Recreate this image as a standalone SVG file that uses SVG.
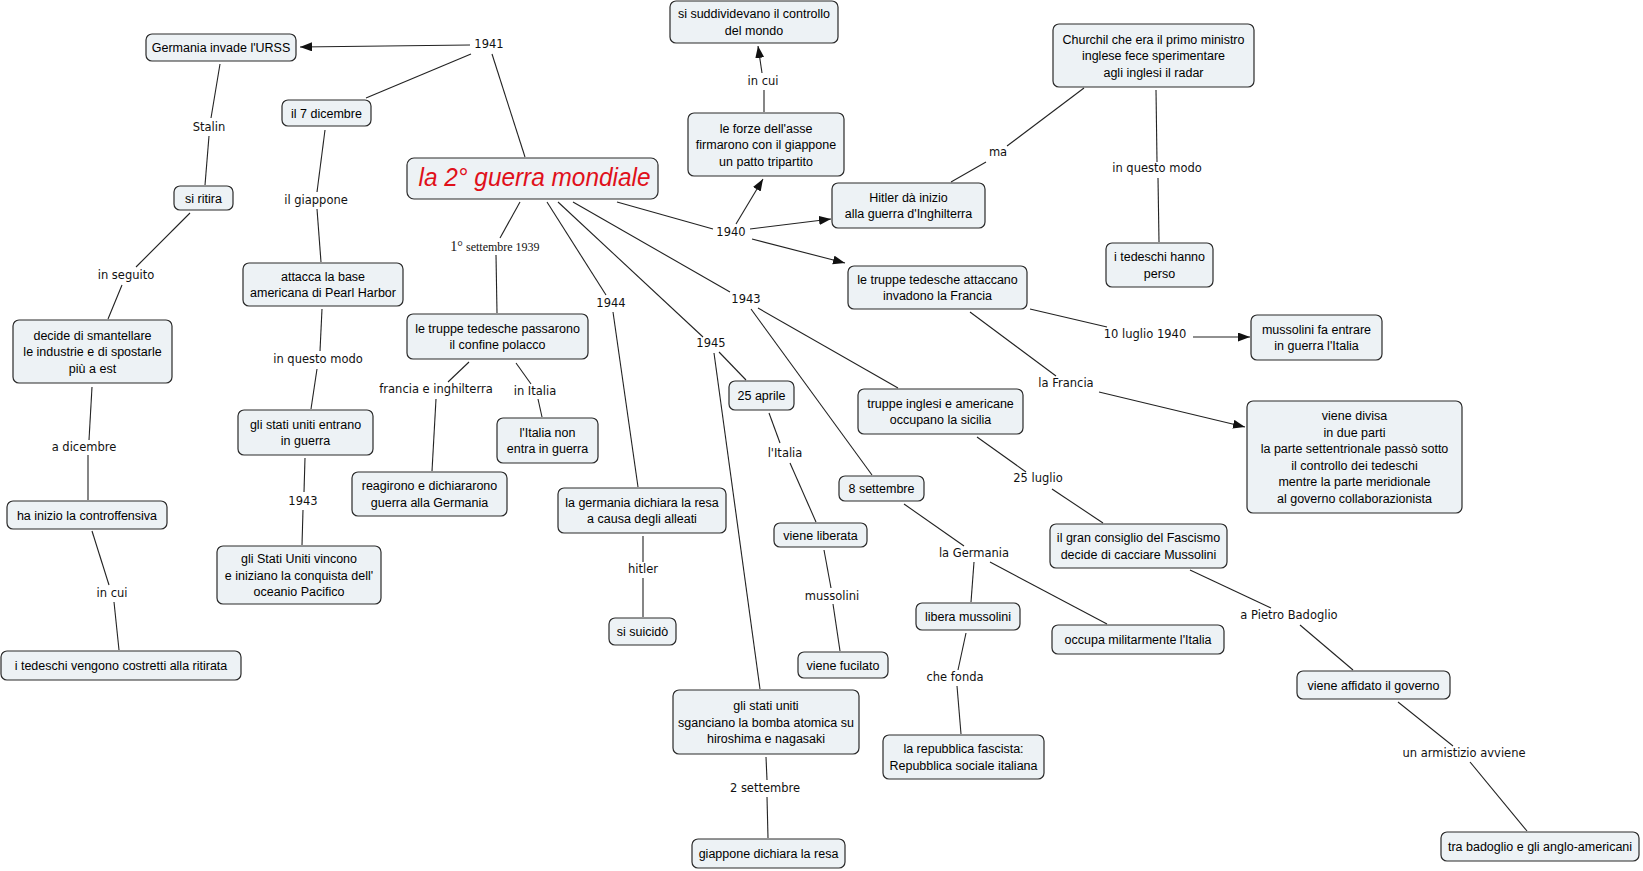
<svg xmlns="http://www.w3.org/2000/svg" width="1643" height="871" viewBox="0 0 1643 871">
<style>
.node rect{fill:#edf2f5;stroke:#2a2a2a;stroke-width:1.2}
.nt{font-family:"Liberation Sans",Arial,sans-serif;font-size:12.5px;text-anchor:middle;fill:#000}
.lt{font-family:"DejaVu Sans",Verdana,sans-serif;font-size:11.5px;text-anchor:middle;fill:#111}
.ls{font-family:"Liberation Serif","Times New Roman",serif;font-size:12px;text-anchor:middle;fill:#111}
#connectors line{stroke:#222;stroke-width:1.1;fill:none}
#connectors line.arr{marker-end:url(#ah)}
.title{font-family:"Liberation Sans",Arial,sans-serif;font-size:25px;font-style:italic;fill:#e0101a;text-anchor:middle}
</style>
<defs>
<marker id="ah" markerUnits="userSpaceOnUse" markerWidth="13" markerHeight="10" refX="12" refY="4.5" orient="auto">
<path d="M0,0 L12,4.5 L0,9 z" fill="#111"/>
</marker>
</defs>
<rect x="0" y="0" width="1643" height="871" fill="#ffffff"/>
<g id="connectors">
<line x1="525" y1="157" x2="492" y2="54"/>
<line class="arr" x1="470" y1="45" x2="300" y2="47"/>
<line x1="471" y1="54" x2="366" y2="98"/>
<line x1="325" y1="130" x2="317" y2="192"/>
<line x1="317" y1="209" x2="321" y2="262"/>
<line x1="322" y1="309" x2="320" y2="351"/>
<line x1="317" y1="369" x2="311" y2="409"/>
<line x1="305" y1="458" x2="304" y2="492"/>
<line x1="303" y1="510" x2="302" y2="545"/>
<line x1="220" y1="64" x2="211" y2="118"/>
<line x1="209" y1="136" x2="205" y2="185"/>
<line x1="190" y1="213" x2="136" y2="267"/>
<line x1="122" y1="285" x2="108" y2="319"/>
<line x1="92" y1="387" x2="89" y2="440"/>
<line x1="88" y1="455" x2="88" y2="500"/>
<line x1="92" y1="531" x2="109" y2="585"/>
<line x1="114" y1="602" x2="119" y2="650"/>
<line x1="520" y1="202" x2="500" y2="238"/>
<line x1="496" y1="255" x2="497" y2="313"/>
<line x1="469" y1="362" x2="448" y2="382"/>
<line x1="436" y1="399" x2="432" y2="471"/>
<line x1="516" y1="363" x2="531" y2="384"/>
<line x1="538" y1="399" x2="542" y2="417"/>
<line x1="547" y1="202" x2="606" y2="295"/>
<line x1="613" y1="312" x2="638" y2="487"/>
<line x1="643" y1="536" x2="643" y2="562"/>
<line x1="643" y1="578" x2="643" y2="617"/>
<line x1="558" y1="202" x2="703" y2="337"/>
<line x1="719" y1="352" x2="746" y2="380"/>
<line x1="714" y1="353" x2="760" y2="689"/>
<line x1="573" y1="202" x2="730" y2="292"/>
<line x1="758" y1="308" x2="898" y2="388"/>
<line x1="751" y1="309" x2="872" y2="475"/>
<line x1="769" y1="413" x2="780" y2="443"/>
<line x1="790" y1="463" x2="816" y2="522"/>
<line x1="824" y1="550" x2="831" y2="588"/>
<line x1="833" y1="604" x2="840" y2="651"/>
<line x1="904" y1="504" x2="964" y2="546"/>
<line x1="974" y1="562" x2="971" y2="602"/>
<line x1="990" y1="562" x2="1107" y2="624"/>
<line x1="966" y1="633" x2="958" y2="670"/>
<line x1="957" y1="686" x2="961" y2="734"/>
<line x1="977" y1="437" x2="1026" y2="472"/>
<line x1="1052" y1="489" x2="1103" y2="523"/>
<line x1="1190" y1="570" x2="1271" y2="608"/>
<line x1="1300" y1="625" x2="1353" y2="670"/>
<line x1="1398" y1="702" x2="1453" y2="746"/>
<line x1="1470" y1="762" x2="1527" y2="831"/>
<line x1="766" y1="757" x2="767" y2="780"/>
<line x1="767" y1="797" x2="768" y2="838"/>
<line x1="617" y1="202" x2="713" y2="229"/>
<line class="arr" x1="736" y1="224" x2="763" y2="179"/>
<line class="arr" x1="750" y1="229" x2="831" y2="219"/>
<line class="arr" x1="752" y1="239" x2="845" y2="263"/>
<line x1="764" y1="112" x2="764" y2="90"/>
<line class="arr" x1="762" y1="73" x2="758" y2="46"/>
<line x1="951" y1="182" x2="986" y2="162"/>
<line x1="1007" y1="146" x2="1084" y2="88"/>
<line x1="1156" y1="90" x2="1157" y2="162"/>
<line x1="1158" y1="178" x2="1159" y2="242"/>
<line x1="1030" y1="309" x2="1107" y2="327"/>
<line class="arr" x1="1193" y1="337" x2="1250" y2="337"/>
<line x1="970" y1="312" x2="1056" y2="376"/>
<line class="arr" x1="1099" y1="392" x2="1245" y2="427"/>
</g>
<g id="labels">
<text class="lt" x="489" y="48">1941</text>
<text class="lt" x="209" y="131">Stalin</text>
<text class="lt" x="316" y="204">il giappone</text>
<text class="lt" x="126" y="279">in seguito</text>
<text class="lt" x="318" y="363">in questo modo</text>
<text class="lt" x="84" y="451">a dicembre</text>
<text class="lt" x="112" y="597">in cui</text>
<text class="lt" x="303" y="505">1943</text>
<text class="ls" x="495" y="251"><tspan font-size="14">1°</tspan> settembre 1939</text>
<text class="lt" x="436" y="393">francia e inghilterra</text>
<text class="lt" x="535" y="395">in Italia</text>
<text class="lt" x="611" y="307">1944</text>
<text class="lt" x="643" y="573">hitler</text>
<text class="lt" x="711" y="347">1945</text>
<text class="lt" x="746" y="303">1943</text>
<text class="lt" x="785" y="457">l'Italia</text>
<text class="lt" x="832" y="600">mussolini</text>
<text class="lt" x="765" y="792">2 settembre</text>
<text class="lt" x="974" y="557">la Germania</text>
<text class="lt" x="955" y="681">che fonda</text>
<text class="lt" x="1038" y="482">25 luglio</text>
<text class="lt" x="1289" y="619">a Pietro Badoglio</text>
<text class="lt" x="1464" y="757">un armistizio avviene</text>
<text class="lt" x="1066" y="387">la Francia</text>
<text class="lt" x="1145" y="338">10 luglio 1940</text>
<text class="lt" x="731" y="236">1940</text>
<text class="lt" x="763" y="85">in cui</text>
<text class="lt" x="998" y="156">ma</text>
<text class="lt" x="1157" y="172">in questo modo</text>
</g>
<g id="n_main" class="node"><rect x="407" y="158" width="251" height="41" rx="7"/><text class="title" x="534.5" y="186" textLength="232" lengthAdjust="spacingAndGlyphs">la 2° guerra mondiale</text></g>
<g id="n_urss" class="node"><rect x="146" y="34" width="150" height="27" rx="6"/><text class="nt" x="221" y="52">Germania invade l'URSS</text></g>
<g id="n_7dic" class="node"><rect x="282" y="100" width="89" height="26" rx="6"/><text class="nt" x="326.5" y="117.5">il 7 dicembre</text></g>
<g id="n_ritira" class="node"><rect x="174" y="186" width="59" height="24" rx="6"/><text class="nt" x="203.5" y="202.5">si ritira</text></g>
<g id="n_pearl" class="node"><rect x="243" y="263" width="160" height="43" rx="6"/><text class="nt" x="323" y="280.7">attacca la base</text><text class="nt" x="323" y="297.2">americana di Pearl Harbor</text></g>
<g id="n_smantellare" class="node"><rect x="13" y="320" width="159" height="63" rx="6"/><text class="nt" x="92.5" y="339.5">decide di smantellare</text><text class="nt" x="92.5" y="356">le industrie e di spostarle</text><text class="nt" x="92.5" y="372.5">più a est</text></g>
<g id="n_controff" class="node"><rect x="7" y="501" width="160" height="28" rx="6"/><text class="nt" x="87" y="519.5">ha inizio la controffensiva</text></g>
<g id="n_ritirata" class="node"><rect x="1" y="651" width="240" height="29" rx="6"/><text class="nt" x="121" y="670">i tedeschi vengono costretti alla ritirata</text></g>
<g id="n_usentrano" class="node"><rect x="238" y="410" width="135" height="45" rx="6"/><text class="nt" x="305.5" y="428.7">gli stati uniti entrano</text><text class="nt" x="305.5" y="445.2">in guerra</text></g>
<g id="n_pacifico" class="node"><rect x="217" y="546" width="164" height="58" rx="6"/><text class="nt" x="299" y="563">gli Stati Uniti vincono</text><text class="nt" x="299" y="579.5">e iniziano la conquista dell'</text><text class="nt" x="299" y="596">oceanio Pacifico</text></g>
<g id="n_polacco" class="node"><rect x="407" y="314" width="181" height="45" rx="6"/><text class="nt" x="497.5" y="332.7">le truppe tedesche passarono</text><text class="nt" x="497.5" y="349.2">il confine polacco</text></g>
<g id="n_reagirono" class="node"><rect x="352" y="472" width="155" height="44" rx="6"/><text class="nt" x="429.5" y="490.2">reagirono e dichiararono</text><text class="nt" x="429.5" y="506.7">guerra alla Germania</text></g>
<g id="n_italianon" class="node"><rect x="497" y="418" width="101" height="45" rx="6"/><text class="nt" x="547.5" y="436.7">l'Italia non</text><text class="nt" x="547.5" y="453.2">entra in guerra</text></g>
<g id="n_germresa" class="node"><rect x="558" y="488" width="168" height="45" rx="6"/><text class="nt" x="642" y="506.7">la germania dichiara la resa</text><text class="nt" x="642" y="523.2">a causa degli alleati</text></g>
<g id="n_suicido" class="node"><rect x="609" y="618" width="67" height="27" rx="6"/><text class="nt" x="642.5" y="636">si suicidò</text></g>
<g id="n_sganciano" class="node"><rect x="673" y="690" width="186" height="64" rx="6"/><text class="nt" x="766" y="710">gli stati uniti</text><text class="nt" x="766" y="726.5">sganciano la bomba atomica su</text><text class="nt" x="766" y="743">hiroshima e nagasaki</text></g>
<g id="n_giapresa" class="node"><rect x="692" y="839" width="153" height="29" rx="6"/><text class="nt" x="768.5" y="858">giappone dichiara la resa</text></g>
<g id="n_25apr" class="node"><rect x="729" y="381" width="65" height="29" rx="6"/><text class="nt" x="761.5" y="400">25 aprile</text></g>
<g id="n_liberata" class="node"><rect x="774" y="523" width="93" height="24" rx="6"/><text class="nt" x="820.5" y="539.5">viene liberata</text></g>
<g id="n_fucilato" class="node"><rect x="798" y="652" width="90" height="26" rx="6"/><text class="nt" x="843" y="669.5">viene fucilato</text></g>
<g id="n_8sett" class="node"><rect x="839" y="476" width="85" height="25" rx="6"/><text class="nt" x="881.5" y="493">8 settembre</text></g>
<g id="n_liberamus" class="node"><rect x="916" y="603" width="104" height="27" rx="6"/><text class="nt" x="968" y="621">libera mussolini</text></g>
<g id="n_repubblica" class="node"><rect x="883" y="735" width="161" height="44" rx="6"/><text class="nt" x="963.5" y="753.2">la repubblica fascista:</text><text class="nt" x="963.5" y="769.7">Repubblica sociale italiana</text></g>
<g id="n_occupa" class="node"><rect x="1052" y="625" width="172" height="29" rx="6"/><text class="nt" x="1138" y="644">occupa militarmente l'Italia</text></g>
<g id="n_sicilia" class="node"><rect x="858" y="389" width="165" height="45" rx="6"/><text class="nt" x="940.5" y="407.7">truppe inglesi e americane</text><text class="nt" x="940.5" y="424.2">occupano la sicilia</text></g>
<g id="n_granconsiglio" class="node"><rect x="1050" y="524" width="177" height="44" rx="6"/><text class="nt" x="1138.5" y="542.2">il gran consiglio del Fascismo</text><text class="nt" x="1138.5" y="558.7">decide di cacciare Mussolini</text></g>
<g id="n_affidato" class="node"><rect x="1297" y="671" width="153" height="28" rx="6"/><text class="nt" x="1373.5" y="689.5">viene affidato il governo</text></g>
<g id="n_trabadoglio" class="node"><rect x="1441" y="832" width="198" height="29" rx="6"/><text class="nt" x="1540" y="851">tra badoglio e gli anglo-americani</text></g>
<g id="n_suddividevano" class="node"><rect x="670" y="1" width="168" height="42" rx="6"/><text class="nt" x="754" y="18.2">si suddividevano il controllo</text><text class="nt" x="754" y="34.7">del mondo</text></g>
<g id="n_forze" class="node"><rect x="688" y="113" width="156" height="63" rx="6"/><text class="nt" x="766" y="132.5">le forze dell'asse</text><text class="nt" x="766" y="149">firmarono con il giappone</text><text class="nt" x="766" y="165.5">un patto tripartito</text></g>
<g id="n_hitler" class="node"><rect x="832" y="183" width="153" height="45" rx="6"/><text class="nt" x="908.5" y="201.7">Hitler dà inizio</text><text class="nt" x="908.5" y="218.2">alla guerra d'Inghilterra</text></g>
<g id="n_churchil" class="node"><rect x="1053" y="24" width="201" height="63" rx="6"/><text class="nt" x="1153.5" y="43.5">Churchil che era il primo ministro</text><text class="nt" x="1153.5" y="60">inglese fece sperimentare</text><text class="nt" x="1153.5" y="76.5">agli inglesi il radar</text></g>
<g id="n_persi" class="node"><rect x="1106" y="243" width="107" height="44" rx="6"/><text class="nt" x="1159.5" y="261.2">i tedeschi hanno</text><text class="nt" x="1159.5" y="277.7">perso</text></g>
<g id="n_attaccano" class="node"><rect x="848" y="266" width="179" height="43" rx="6"/><text class="nt" x="937.5" y="283.7">le truppe tedesche attaccano</text><text class="nt" x="937.5" y="300.2">invadono la Francia</text></g>
<g id="n_mussentrare" class="node"><rect x="1251" y="315" width="131" height="45" rx="6"/><text class="nt" x="1316.5" y="333.7">mussolini fa entrare</text><text class="nt" x="1316.5" y="350.2">in guerra l'Italia</text></g>
<g id="n_divisa" class="node"><rect x="1247" y="401" width="215" height="112" rx="6"/><text class="nt" x="1354.5" y="420.2">viene divisa</text><text class="nt" x="1354.5" y="436.7">in due parti</text><text class="nt" x="1354.5" y="453.2">la parte settentrionale passò sotto</text><text class="nt" x="1354.5" y="469.7">il controllo dei tedeschi</text><text class="nt" x="1354.5" y="486.2">mentre la parte meridionale</text><text class="nt" x="1354.5" y="502.7">al governo collaborazionista</text></g>
</svg>
